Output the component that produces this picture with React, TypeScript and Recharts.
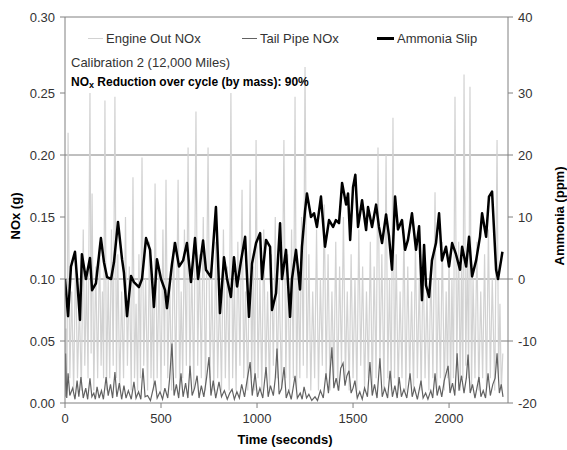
import React from "react";
import { LineChart, Line, XAxis, YAxis, ReferenceLine } from "recharts";

// axis setup
const TIME_TICKS = [0, 500, 1000, 1500, 2000];
const TIME_MAX = 2307;
const NOX_TOP = 0.3113; // top frame carries the "0.30" label
const NOX_TICKS = [0, 0.05, 0.1, 0.15, 0.2, 0.25, NOX_TOP];
const NH3_TOP = 42.26; // top frame carries the "40" label
const NH3_TICKS = [-20, -10, 0, 10, 20, 30, NH3_TOP];
const NOX_GRID = [0.05, 0.1, 0.2];

// [time (s), NOx (g)]
const ENGINE_OUT: [number, number][] = [
  [0, 0.02], [5, 0.06], [10, 0.01], [16, 0.218], [25, 0.02], [35, 0.09], [45, 0.01], [55, 0.12],
  [65, 0.02], [75, 0.08], [85, 0.01], [95, 0.14], [103, 0.03], [112, 0.1], [120, 0.02], [130, 0.25],
  [136, 0.04], [141, 0.169], [150, 0.01], [160, 0.11], [170, 0.02], [180, 0.13], [188, 0.03], [195, 0.09],
  [201, 0.02], [208, 0.244], [216, 0.01], [225, 0.1], [233, 0.02], [242, 0.14], [251, 0.03], [260, 0.247],
  [268, 0.02], [275, 0.12], [285, 0.01], [295, 0.09], [305, 0.02], [315, 0.15], [325, 0.03], [335, 0.11],
  [345, 0.01], [354, 0.182], [362, 0.02], [370, 0.08], [378, 0.01], [385, 0.12], [393, 0.02], [401, 0.198],
  [410, 0.03], [420, 0.1], [430, 0.01], [440, 0.13], [448, 0.02], [455, 0.09], [462, 0.01], [469, 0.177],
  [480, 0.02], [490, 0.11], [500, 0.01], [510, 0.14], [518, 0.03], [526, 0.18], [535, 0.02], [545, 0.1],
  [555, 0.01], [565, 0.13], [577, 0.02], [589, 0.18], [597, 0.01], [605, 0.09], [613, 0.02], [622, 0.14],
  [632, 0.03], [641, 0.206], [650, 0.02], [660, 0.11], [671, 0.01], [682, 0.235], [691, 0.03], [700, 0.12],
  [710, 0.02], [720, 0.15], [732, 0.01], [745, 0.206], [755, 0.02], [765, 0.1], [775, 0.01], [785, 0.13],
  [795, 0.02], [805, 0.09], [815, 0.01], [825, 0.14], [835, 0.02], [845, 0.11], [855, 0.01], [864, 0.25],
  [873, 0.02], [882, 0.1], [891, 0.01], [900, 0.13], [911, 0.03], [922, 0.172], [931, 0.02], [940, 0.09],
  [952, 0.01], [964, 0.18], [972, 0.02], [980, 0.11], [988, 0.01], [995, 0.212], [1005, 0.02], [1015, 0.1],
  [1025, 0.01], [1035, 0.14], [1045, 0.02], [1055, 0.09], [1065, 0.01], [1075, 0.12], [1085, 0.03], [1095, 0.15],
  [1105, 0.02], [1115, 0.1], [1128, 0.01], [1140, 0.212], [1150, 0.02], [1160, 0.12], [1170, 0.01], [1180, 0.14],
  [1189, 0.02], [1198, 0.247], [1206, 0.01], [1215, 0.11], [1223, 0.02], [1232, 0.15], [1241, 0.03], [1250, 0.271],
  [1260, 0.02], [1270, 0.12], [1280, 0.01], [1290, 0.09], [1300, 0.02], [1310, 0.14], [1320, 0.01], [1330, 0.1],
  [1340, 0.03], [1350, 0.16], [1360, 0.02], [1370, 0.12], [1380, 0.01], [1390, 0.09], [1400, 0.02], [1410, 0.13],
  [1420, 0.01], [1430, 0.11], [1440, 0.03], [1450, 0.15], [1460, 0.02], [1470, 0.09], [1480, 0.01], [1490, 0.12],
  [1500, 0.02], [1510, 0.1], [1520, 0.01], [1530, 0.14], [1540, 0.03], [1550, 0.11], [1560, 0.01], [1570, 0.09],
  [1580, 0.02], [1590, 0.13], [1600, 0.01], [1610, 0.11], [1620, 0.02], [1630, 0.206], [1640, 0.03], [1650, 0.12],
  [1661, 0.01], [1672, 0.2], [1681, 0.02], [1690, 0.1], [1699, 0.01], [1708, 0.23], [1716, 0.02], [1725, 0.12],
  [1735, 0.01], [1745, 0.09], [1755, 0.02], [1765, 0.14], [1775, 0.01], [1785, 0.11], [1795, 0.02], [1805, 0.09],
  [1815, 0.01], [1825, 0.13], [1835, 0.02], [1845, 0.1], [1855, 0.01], [1865, 0.12], [1875, 0.02], [1885, 0.09],
  [1895, 0.01], [1905, 0.11], [1916, 0.02], [1927, 0.17], [1936, 0.01], [1945, 0.1], [1955, 0.02], [1965, 0.13],
  [1975, 0.01], [1985, 0.09], [1992, 0.02], [2000, 0.12], [2008, 0.01], [2015, 0.1], [2023, 0.02], [2031, 0.247],
  [2040, 0.03], [2050, 0.13], [2058, 0.01], [2065, 0.11], [2072, 0.02], [2078, 0.265], [2087, 0.03], [2095, 0.12],
  [2102, 0.02], [2109, 0.255], [2117, 0.01], [2125, 0.1], [2135, 0.02], [2145, 0.13], [2155, 0.01], [2165, 0.09],
  [2175, 0.02], [2185, 0.12], [2195, 0.01], [2205, 0.14], [2215, 0.02], [2225, 0.1], [2238, 0.01], [2250, 0.212],
  [2258, 0.02], [2265, 0.08], [2272, 0.01], [2280, 0.04],
];

// [time (s), NOx (g)]
const TAIL_PIPE: [number, number][] = [
  [0, 0.005], [3, 0.04], [9, 0.004], [16, 0.024], [25, 0.006], [40, 0.012], [52, 0.003], [63, 0.018],
  [72, 0.005], [83, 0.021], [95, 0.004], [108, 0.012], [118, 0.003], [130, 0.02], [140, 0.005], [150, 0.008],
  [158, 0.003], [167, 0.013], [178, 0.004], [190, 0.01], [200, 0.003], [214, 0.021], [225, 0.006], [237, 0.015],
  [248, 0.004], [260, 0.025], [270, 0.005], [283, 0.016], [295, 0.003], [307, 0.014], [318, 0.004], [330, 0.01],
  [345, 0.003], [359, 0.017], [370, 0.004], [383, 0.009], [395, 0.003], [406, 0.028], [417, 0.005], [430, 0.006],
  [445, 0.002], [457, 0.01], [469, 0.018], [480, 0.004], [495, 0.009], [508, 0.003], [520, 0.012], [535, 0.004],
  [545, 0.02], [557, 0.048], [568, 0.006], [580, 0.015], [592, 0.004], [604, 0.024], [615, 0.005], [628, 0.016],
  [640, 0.004], [651, 0.03], [662, 0.006], [675, 0.012], [688, 0.022], [698, 0.004], [710, 0.014], [723, 0.005],
  [737, 0.02], [750, 0.037], [760, 0.006], [772, 0.018], [785, 0.004], [802, 0.017], [815, 0.005], [830, 0.01],
  [845, 0.003], [858, 0.008], [870, 0.011], [882, 0.003], [895, 0.009], [908, 0.004], [920, 0.015], [935, 0.005],
  [950, 0.02], [964, 0.033], [975, 0.006], [990, 0.024], [1002, 0.005], [1015, 0.012], [1030, 0.004], [1047, 0.029],
  [1058, 0.005], [1070, 0.014], [1085, 0.006], [1095, 0.02], [1104, 0.044], [1115, 0.007], [1128, 0.012], [1141, 0.029],
  [1152, 0.004], [1165, 0.01], [1178, 0.003], [1188, 0.012], [1198, 0.022], [1210, 0.004], [1225, 0.008], [1235, 0.003],
  [1245, 0.013], [1258, 0.004], [1270, 0.007], [1285, 0.002], [1302, 0.005], [1315, 0.002], [1330, 0.01], [1345, 0.004],
  [1359, 0.024], [1372, 0.008], [1390, 0.045], [1400, 0.012], [1412, 0.02], [1425, 0.01], [1436, 0.028], [1448, 0.032],
  [1458, 0.014], [1468, 0.022], [1479, 0.026], [1490, 0.008], [1500, 0.012], [1510, 0.018], [1522, 0.004], [1535, 0.009],
  [1548, 0.003], [1560, 0.012], [1575, 0.005], [1588, 0.033], [1600, 0.006], [1612, 0.015], [1625, 0.004], [1640, 0.036],
  [1652, 0.005], [1665, 0.012], [1680, 0.004], [1693, 0.026], [1705, 0.005], [1718, 0.014], [1730, 0.004], [1740, 0.021],
  [1752, 0.005], [1765, 0.011], [1780, 0.004], [1797, 0.024], [1808, 0.005], [1820, 0.012], [1835, 0.003], [1854, 0.018],
  [1865, 0.004], [1878, 0.008], [1890, 0.003], [1905, 0.01], [1915, 0.004], [1927, 0.024], [1938, 0.006], [1950, 0.014],
  [1962, 0.005], [1975, 0.018], [1995, 0.03], [2005, 0.008], [2018, 0.016], [2030, 0.006], [2042, 0.04], [2052, 0.01],
  [2065, 0.022], [2078, 0.008], [2090, 0.02], [2099, 0.039], [2110, 0.008], [2122, 0.015], [2135, 0.004], [2145, 0.012],
  [2156, 0.021], [2166, 0.005], [2178, 0.01], [2190, 0.004], [2203, 0.024], [2215, 0.006], [2228, 0.015], [2240, 0.02],
  [2250, 0.04], [2262, 0.008], [2272, 0.015], [2281, 0.005],
];

// [time (s), ammonia (ppm)]
const AMMONIA_SLIP: [number, number][] = [
  [0, 0], [16, -6], [31, 2], [52, 4.4], [63, 0], [78, -6.6], [88, 4], [109, 0], [130, 3.4], [141, -1.8],
  [161, -0.7], [187, 6.6], [203, 2.7], [219, 0.3], [240, 0], [255, 2.7], [276, 9.2], [297, 3.2], [307, 1],
  [323, -6], [344, 0.5], [359, -0.5], [385, -1.3], [401, 0], [422, 6.6], [443, 4.7], [463, -4.5], [479, 3.2],
  [500, 0], [521, -1.8], [531, -4.7], [557, 2.4], [573, 5.8], [594, 2], [615, 3], [635, 5.8], [656, -0.5],
  [677, 6.6], [693, 0], [719, 6.2], [734, 1.5], [760, 0.3], [786, 11.6], [797, 3], [807, -5.5], [828, 3.5],
  [844, 0], [864, -2.9], [880, 3.5], [896, -1.2], [917, 3], [938, 6.8], [958, -6.1], [974, 2.5], [995, 5.8],
  [1016, 7.4], [1026, 0], [1047, 6.3], [1068, 5.2], [1078, -5], [1099, -2.3], [1120, 9], [1130, 0], [1151, 4.7],
  [1172, -6.1], [1182, 0], [1203, 4.7], [1224, -1.7], [1234, 5.2], [1250, 11], [1260, 13.8], [1281, 10],
  [1297, 10.6], [1312, 8.4], [1333, 13.3], [1354, 5.2], [1375, 9.5], [1396, 8.4], [1411, 9.5], [1427, 9],
  [1443, 15.5], [1464, 12], [1474, 13.8], [1485, 6.3], [1500, 14.8], [1512, 16.8], [1526, 8.4], [1547, 12.7],
  [1568, 7.9], [1578, 11.6], [1599, 8.4], [1620, 12], [1635, 8.4], [1651, 5.8], [1672, 10.4], [1687, 7],
  [1703, 1.5], [1719, 13.3], [1734, 8], [1755, 9.5], [1771, 4.7], [1786, 6.3], [1807, 10.6], [1828, 4.7],
  [1844, 8.5], [1859, -3.4], [1870, 5.5], [1880, -1], [1896, -2.9], [1911, 3], [1932, 5.8], [1948, 10.6],
  [1963, 3], [1984, 5.2], [2000, 2], [2016, 5.8], [2036, 4], [2057, 1.5], [2068, 5.2], [2089, 2], [2104, 6.8],
  [2120, 0.4], [2141, 3], [2161, 6.8], [2172, 10.6], [2193, 6.8], [2208, 13.3], [2224, 14.1], [2245, 1.5],
  [2255, 0], [2271, 3], [2278, 4.4],
];

const toRows = (points: [number, number][]) => points.map(([t, v]) => ({ t, v }));

const FONT = '"Liberation Sans", Arial, sans-serif';
const AXIS_GREY = "#808080";
const ENGINE_COLOR = "#d2d2d2";
const TAIL_COLOR = "#626262";

const abs = (style: React.CSSProperties): React.CSSProperties => ({
  position: "absolute",
  whiteSpace: "nowrap",
  lineHeight: 1,
  pointerEvents: "none",
  ...style,
});

const LegendItem = ({ x, lineW, color, thick, label }: { x: number; lineW: number; color: string; thick: number; label: string }) => (
  <div style={abs({ left: x, top: 31, height: 14, display: "flex", alignItems: "center", fontSize: 13, color: "#333" })}>
    <span style={{ display: "inline-block", width: lineW, height: thick, background: color, marginRight: 3 }} />
    {label}
  </div>
);

const App: React.FC = () => {
  const engineRows = toRows(ENGINE_OUT);
  const tailRows = toRows(TAIL_PIPE);
  const ammoniaRows = toRows(AMMONIA_SLIP);

  return (
    <div style={{ position: "absolute", left: 0, top: 0, width: 567, height: 450, background: "#fff", fontFamily: FONT }}>
      <LineChart width={567} height={450} margin={{ top: 17, right: 0, bottom: 0, left: 0 }}>
        <XAxis
          dataKey="t"
          type="number"
          domain={[0, TIME_MAX]}
          ticks={TIME_TICKS}
          allowDataOverflow
          height={47}
          stroke={AXIS_GREY}
          tickSize={5}
          tickMargin={6}
          tick={{ fill: "#333", fontSize: 13, fontFamily: FONT }}
        />
        <YAxis
          yAxisId="nox"
          domain={[0, NOX_TOP]}
          ticks={NOX_TICKS}
          allowDataOverflow
          width={65}
          stroke={AXIS_GREY}
          tickSize={5}
          tickMargin={5}
          tick={{ fill: "#333", fontSize: 13, fontFamily: FONT }}
          tickFormatter={(v: number) => (v > 0.3 ? "0.30" : v.toFixed(2))}
        />
        <YAxis
          yAxisId="nh3"
          orientation="right"
          domain={[-20, NH3_TOP]}
          ticks={NH3_TICKS}
          allowDataOverflow
          width={59}
          stroke={AXIS_GREY}
          tickSize={5}
          tickMargin={5}
          tick={{ fill: "#333", fontSize: 13, fontFamily: FONT }}
          tickFormatter={(v: number) => (v > 40 ? "40" : String(v))}
        />
        {NOX_GRID.map((g) => (
          <ReferenceLine key={g} yAxisId="nox" y={g} stroke={AXIS_GREY} strokeWidth={1} />
        ))}
        <ReferenceLine yAxisId="nox" y={NOX_TOP} stroke={AXIS_GREY} strokeWidth={1} />
        <Line
          yAxisId="nox"
          data={engineRows}
          dataKey="v"
          type="linear"
          stroke={ENGINE_COLOR}
          strokeWidth={1.2}
          dot={false}
          isAnimationActive={false}
        />
        <Line
          yAxisId="nox"
          data={tailRows}
          dataKey="v"
          type="linear"
          stroke={TAIL_COLOR}
          strokeWidth={1.2}
          dot={false}
          isAnimationActive={false}
        />
        <Line
          yAxisId="nh3"
          data={ammoniaRows}
          dataKey="v"
          type="linear"
          stroke="#000"
          strokeWidth={2.5}
          strokeLinejoin="round"
          dot={false}
          isAnimationActive={false}
        />
      </LineChart>

      {/* legend */}
      <LegendItem x={88} lineW={15} color={ENGINE_COLOR} thick={1} label="Engine Out NOx" />
      <LegendItem x={242} lineW={15} color={TAIL_COLOR} thick={1} label="Tail Pipe NOx" />
      <LegendItem x={377} lineW={17} color="#000" thick={3} label="Ammonia Slip" />

      {/* notes */}
      <div style={abs({ left: 71, top: 56, fontSize: 13, color: "#333" })}>Calibration 2 (12,000 Miles)</div>
      <div style={abs({ left: 71, top: 76, fontSize: 12, fontWeight: "bold", color: "#000" })}>
        NO<sub style={{ fontSize: 9, verticalAlign: "-2px" }}>x</sub> Reduction over cycle (by mass): 90%
      </div>

      {/* axis titles */}
      <div style={abs({ left: 285, top: 433, transform: "translateX(-50%)", fontSize: 13, fontWeight: "bold" })}>
        Time (seconds)
      </div>
      <div style={abs({ left: 15, top: 216, transform: "translate(-50%, -50%) rotate(-90deg)", fontSize: 13, fontWeight: "bold" })}>
        NOx (g)
      </div>
      <div style={abs({ left: 559, top: 216, transform: "translate(-50%, -50%) rotate(-90deg)", fontSize: 13, fontWeight: "bold" })}>
        Ammonia (ppm)
      </div>
    </div>
  );
};

export default App;
